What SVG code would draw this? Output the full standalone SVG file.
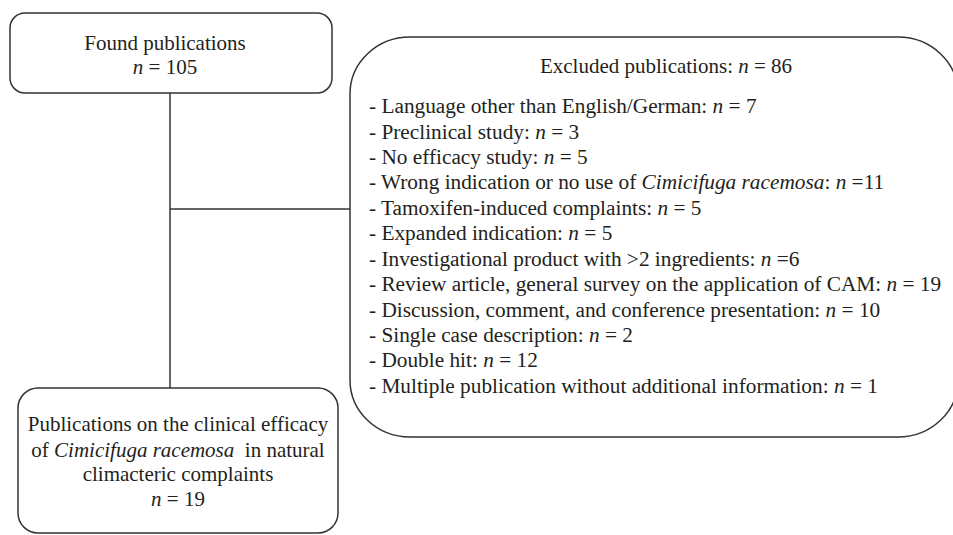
<svg xmlns="http://www.w3.org/2000/svg" width="953" height="535" viewBox="0 0 953 535">
<style>
.box{fill:#fff;stroke:#333;stroke-width:1.5}
.conn{stroke:#333;stroke-width:1.5;fill:none}
text{font-family:"Liberation Serif","Times New Roman",serif;font-size:21px;fill:#231f20}
.l{font-size:21.3px}
.c{text-anchor:middle}
.i{font-style:italic}
</style>
<rect width="953" height="535" fill="#fff"/>
<g id="connectors">
<line class="conn" x1="170" y1="93" x2="170" y2="388"/>
<line class="conn" x1="170" y1="209" x2="350" y2="209"/>
</g>
<g id="found">
<rect class="box" x="10" y="13" width="322" height="80" rx="15" ry="15"/>
<text class="c" x="165" y="50">Found publications</text>
<text class="c" x="165" y="74"><tspan class="i">n</tspan> = 105</text>
</g>
<g id="excluded">
<rect class="box" x="350" y="37" width="608" height="400" rx="60" ry="57"/>
<text class="c" x="666" y="73">Excluded publications: <tspan class="i">n</tspan> = 86</text>
<text class="l" x="369" y="113">- Language other than English/German: <tspan class="i">n</tspan> = 7</text>
<text class="l" x="369" y="138.5">- Preclinical study: <tspan class="i">n</tspan> = 3</text>
<text class="l" x="369" y="164">- No efficacy study: <tspan class="i">n</tspan> = 5</text>
<text class="l" x="369" y="189">- Wrong indication or no use of <tspan class="i">Cimicifuga racemosa</tspan>: <tspan class="i">n</tspan> =11</text>
<text class="l" x="369" y="215">- Tamoxifen-induced complaints: <tspan class="i">n</tspan> = 5</text>
<text class="l" x="369" y="240">- Expanded indication: <tspan class="i">n</tspan> = 5</text>
<text class="l" x="369" y="266">- Investigational product with &gt;2 ingredients: <tspan class="i">n</tspan> =6</text>
<text class="l" x="369" y="291">- Review article, general survey on the application of CAM: <tspan class="i">n</tspan> = 19</text>
<text class="l" x="369" y="317">- Discussion, comment, and conference presentation: <tspan class="i">n</tspan> = 10</text>
<text class="l" x="369" y="342">- Single case description: <tspan class="i">n</tspan> = 2</text>
<text class="l" x="369" y="367">- Double hit: <tspan class="i">n</tspan> = 12</text>
<text class="l" x="369" y="393">- Multiple publication without additional information: <tspan class="i">n</tspan> = 1</text>
</g>
<g id="included">
<rect class="box" x="18" y="388" width="320" height="145" rx="20" ry="20"/>
<text class="c" x="178" y="431">Publications on the clinical efficacy</text>
<text class="c" x="178" y="457" xml:space="preserve">of <tspan class="i">Cimicifuga racemosa</tspan>  in natural</text>
<text class="c" x="178" y="481">climacteric complaints</text>
<text class="c" x="178" y="506"><tspan class="i">n</tspan> = 19</text>
</g>
</svg>
